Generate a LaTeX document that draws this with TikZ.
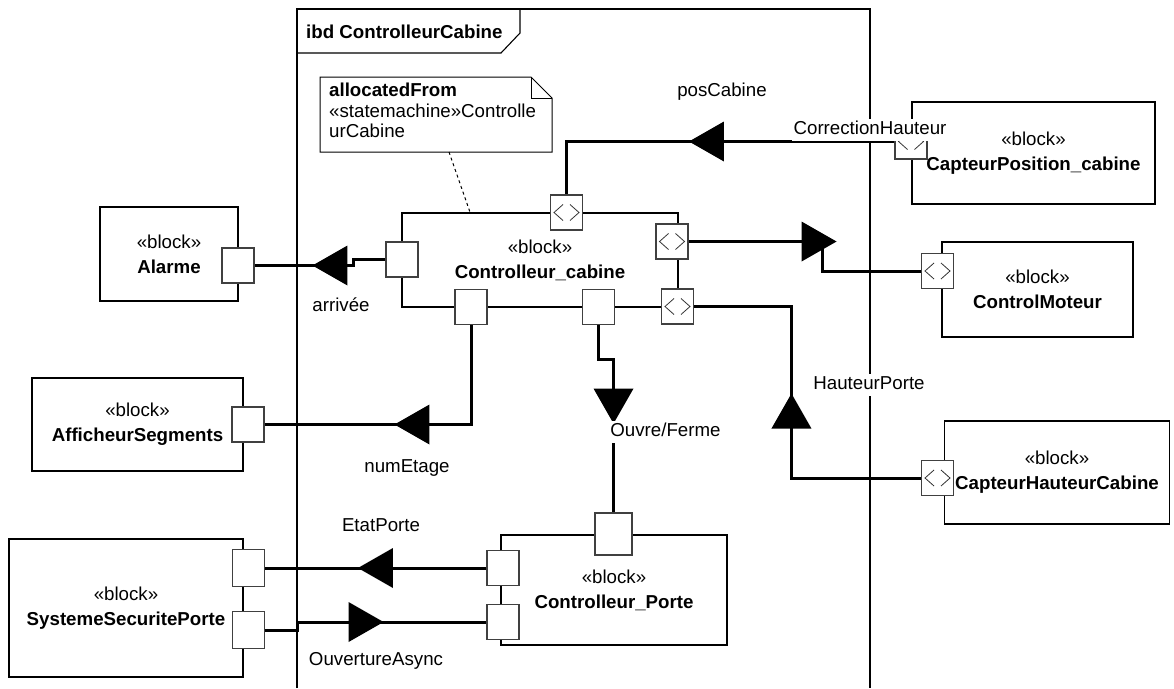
\documentclass[tikz,border=0pt]{standalone}
\usepackage{fontspec}
\setmainfont{Liberation Sans}
\usetikzlibrary{positioning,decorations.markings}

\begin{document}
\begin{tikzpicture}[
  x=1pt, y=-1pt,
  font=\fontsize{18.7}{25}\selectfont,
  block/.style={draw, line width=1.6pt, align=center, inner sep=0pt},
  port/.style={draw=black!75, fill=white, line width=1.1pt, minimum width=32pt, minimum height=35pt, inner sep=0pt},
  flowport/.style={port, path picture={
      \draw[black!80, line width=0.8pt]
        ([xshift=-3.5pt,yshift=8pt]path picture bounding box.center) -- ++(-9pt,-8pt) -- ++(9pt,-8pt)
        ([xshift=3.5pt,yshift=8pt]path picture bounding box.center) -- ++(9pt,-8pt) -- ++(-9pt,-8pt);}},
  conn/.style={line width=3pt},
  midtri/.style={postaction={decorate}, decoration={markings,
      mark=at position #1 with {\fill (-17.5,-20) -- (17.5,0) -- (-17.5,20) -- cycle;}}},
  lbl/.style={inner sep=2pt, text height=13.5pt, text depth=4pt},
  frame/.style={line width=1.1pt}
]
\useasboundingbox (0,0) rectangle (1174,688);

% ibd frame
\draw[frame] (297,688) -- (297,9) -- (870,9) -- (870,688);
\draw[frame] (297,53) -- (501,53) -- (520,33) -- (520,9);
\node[anchor=west, inner sep=0pt, font=\fontsize{18.7}{25}\selectfont\bfseries] (title) at (306,32) {ibd ControlleurCabine};

% note
\draw[line width=1pt] (320,77) -- (531,77) -- (552,98) -- (552,152) -- (320,152) -- cycle;
\draw[line width=1pt] (531,77) -- (531,98) -- (552,98);
\node[anchor=north west, inner sep=0pt, text width=220pt, align=left, font=\fontsize{18.7}{20.5}\selectfont] (note) at (329,83)
  {\textbf{allocatedFrom}\\«statemachine»Controlle\\urCabine};
\coordinate (notefoot) at (449,152);

% blocks
\node[block, minimum width=138, minimum height=94] (alarme) at (169,254) {«block»\\\textbf{Alarme}};
\node[block, minimum width=276, minimum height=94] (cc) at (540,260) {«block»\\\textbf{Controlleur\_cabine}};
\node[block, minimum width=243, minimum height=102] (cpos) at (1033.5,153) {«block»\\\textbf{CapteurPosition\_cabine}};
\node[block, minimum width=191, minimum height=95] (cmot) at (1037.5,289.5) {«block»\\\textbf{ControlMoteur}};
\node[block, minimum width=225, minimum height=103] (chaut) at (1057,472.5) {«block»\\\textbf{CapteurHauteurCabine}};
\node[block, minimum width=211, minimum height=93] (affich) at (137.5,424.5) {«block»\\\textbf{AfficheurSegments}};
\node[block, minimum width=234, minimum height=138] (secu) at (126,608) {«block»\\\textbf{SystemeSecuritePorte}};
\node[block, minimum width=226, minimum height=110] (cporte) at (614,590) {«block»\\\textbf{Controlleur\_Porte}};

\draw[dashed, line width=1pt] (notefoot) -- ([xshift=-70pt]cc.north);

% ports
\node[port] (pA) at (238,265.5) {};
\node[port] (pL) at (402,259.5) {};
\node[flowport] (pT) at (566.5,212.5) {};
\node[flowport] (pR1) at (672,241.5) {};
\node[flowport] (pR2) at (677.5,306.5) {};
\node[port] (pB1) at (471,307) {};
\node[port] (pB2) at (598.5,307) {};
\node[flowport] (pCP) at (911,141.5) {};
\node[flowport] (pCM) at (937.5,271) {};
\node[flowport] (pCH) at (937.5,478) {};
\node[port] (pAS) at (248,424.5) {};
\node[port, minimum width=37pt, minimum height=42pt] (pPT) at (613.5,534) {};
\node[port] (pPL1) at (503,568) {};
\node[port] (pPL2) at (503,622) {};
\node[port, minimum height=37pt] (pS1) at (248.5,568) {};
\node[port, minimum height=37pt] (pS2) at (248.5,630) {};

% connectors
\draw[conn, midtri=61.5pt] (pL.west) -- ++(-32,0) |- (pA.east);
\draw[conn, midtri=188pt] (pCP.west) -| (pT.north);
\draw[conn, midtri=130.5pt] (pR1.east) -- ++(134,0) |- (pCM.west);
\draw[conn, midtri=196.5pt] (pCH.west) -| ++(-129.5,-171.5) -- (pR2.east);
\draw[conn, midtri=158.5pt] (pB1.south) |- (pAS.east);
\draw[conn, midtri=96pt] (pB2.south) -- ++(0,34.5) -| (pPT.north);
\draw[conn, midtri=111pt] (pPL1.west) -- (pS1.east);
\draw[conn, midtri=109pt] (pS2.east) -- ++(32.5,0) |- (pPL2.west);

% labels
\node[lbl] (lArr) at (341,307) {arrivée};
\node[lbl] (lPos) at (722,92) {posCabine};
\node[lbl, fill=white] (lCorr) at (870,130) {CorrectionHauteur};
\node[lbl, fill=white] (lHaut) at (869,385) {HauteurPorte};
\node[lbl] (lNum) at (407,468) {numEtage};
\node[lbl, fill=white] (lOuv) at (665.5,432) {Ouvre/Ferme};
\node[lbl] (lEtat) at (381,527) {EtatPorte};
\node[lbl] (lAsync) at (376,661) {OuvertureAsync};

\end{tikzpicture}
\end{document}
